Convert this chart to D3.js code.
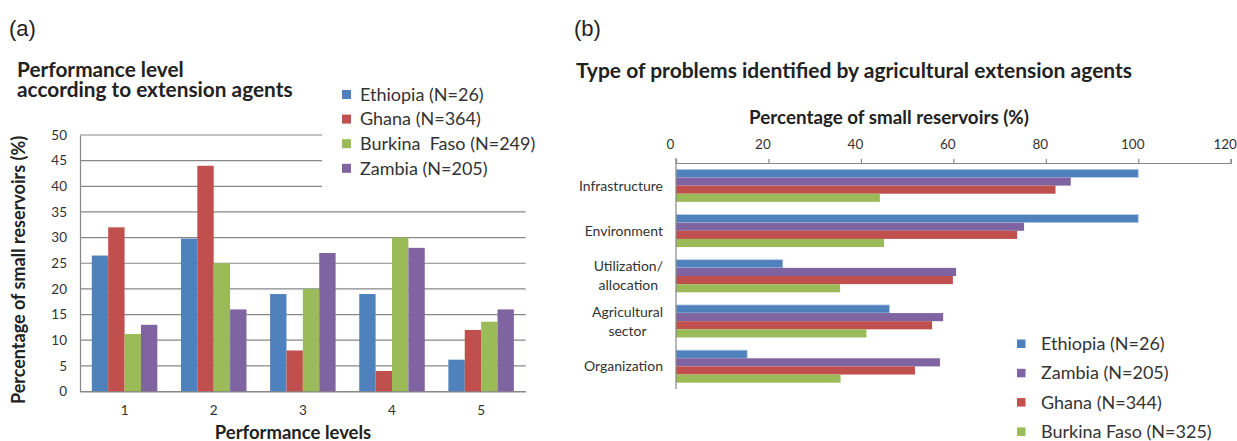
<!DOCTYPE html>
<html>
<head>
<meta charset="utf-8">
<script src="https://cdnjs.cloudflare.com/ajax/libs/d3/7.8.5/d3.min.js"></script>
<style>
  body { margin: 0; background: #fff; }
  text { font-family: Lato, "Open Sans", sans-serif; fill: #333; }
  .panel { font-family: "Liberation Sans", Arial, sans-serif; fill: #222; }
  .title { font-weight: bold; fill: #222; }
  .grid line, .axisline { stroke: #878787; stroke-width: 1.2; }
</style>
</head>
<body>
<script>
//canvas
var w = 1237;
var h = 441;

//panel (a) data
var levels = ["1", "2", "3", "4", "5"];
var seriesA = ["Ethiopia (N=26)", "Ghana (N=364)", "Burkina  Faso (N=249)", "Zambia (N=205)"];
var ethiopiaA = [26.5, 29.8, 19, 19, 6.2];
var ghanaA = [32, 44, 8, 4, 12];
var burkinaA = [11.2, 25, 20, 30, 13.6];
var zambiaA = [13, 16, 27, 28, 16];
var yTicksA = [0, 5, 10, 15, 20, 25, 30, 35, 40, 45, 50];

//panel (b) data
var problems = ["Infrastructure", "Environment", "Utilization/\nallocation", "Agricultural\nsector", "Organization"];
var seriesB = ["Ethiopia (N=26)", "Zambia (N=205)", "Ghana (N=344)", "Burkina Faso (N=325)"];
var ethiopiaB = [100, 100, 23.1, 46.2, 15.4];
var zambiaB = [85.4, 75.3, 60.6, 57.8, 57.1];
var ghanaB = [82.1, 73.8, 59.9, 55.4, 51.7];
var burkinaB = [44.1, 45, 35.5, 41.2, 35.6];
var xTicksB = [0, 20, 40, 60, 80, 100, 120];

//colours (excel defaults)
var blue = "#4f81bd", red = "#c0504d", green = "#9bbb59", purple = "#8064a2";
var colorsA = [blue, red, green, purple];
var colorsB = [blue, purple, red, green];

var valuesA = [ethiopiaA, ghanaA, burkinaA, zambiaA];
var valuesB = [ethiopiaB, zambiaB, ghanaB, burkinaB];

var svg = d3.select("body")
    .append("svg")
    .attr("width", w)
    .attr("height", h);

svg.append("rect").attr("width", w).attr("height", h).attr("fill", "#fff");

/* ---------- panel (a) ---------- */
svg.append("text").attr("class", "panel")
    .attr("x", 9).attr("y", 36)
    .style("font-size", "22px")
    .text("(a)");

//two-line title
svg.append("text").attr("class", "title")
    .attr("x", 17).attr("y", 77)
    .style("font-size", "20.8px")
    .text("Performance level");
svg.append("text").attr("class", "title")
    .attr("x", 17).attr("y", 97)
    .style("font-size", "20.8px")
    .text("according to extension agents");

var x0 = d3.scaleBand()
    .domain(levels)
    .range([80, 525.7])
    .paddingInner(0.265)
    .paddingOuter(0.1325);

var x1 = d3.scaleBand()
    .domain(d3.range(seriesA.length))
    .range([0, x0.bandwidth()]);

var yA = d3.scaleLinear()
    .domain([0, 50])
    .range([391.5, 135]);

//gridlines
svg.append("g")
    .attr("class", "grid")
    .selectAll("line")
    .data(yTicksA)
    .enter()
    .append("line")
    .attr("x1", 80)
    .attr("x2", 525.7)
    .attr("y1", function(d) { return yA(d); })
    .attr("y2", function(d) { return yA(d); });

//legend background hides the top gridlines
svg.append("rect")
    .attr("x", 322).attr("y", 100)
    .attr("width", 230).attr("height", 103)
    .attr("fill", "#fff");

//bars
svg.append("g")
    .selectAll("g")
    .data(valuesA)
    .enter()
    .append("g")
    .attr("fill", function(d, i) { return colorsA[i]; })
    .each(function(vals, si) {
        d3.select(this).selectAll("rect")
            .data(vals)
            .enter()
            .append("rect")
            .attr("x", function(d, j) { return x0(levels[j]) + x1(si); })
            .attr("width", x1.bandwidth())
            .attr("y", function(d) { return yA(d); })
            .attr("height", function(d) { return yA(0) - yA(d); });
    });

//axes
var yAxisA = d3.axisLeft(yA).tickValues(yTicksA).tickSize(0).tickPadding(13);
svg.append("g")
    .attr("transform", "translate(80,0)")
    .call(yAxisA)
    .call(function(g) {
        g.select(".domain").attr("stroke", "#878787").attr("stroke-width", 1.2);
        g.selectAll("text").style("font-size", "13.5px").attr("fill", "#444")
            .style("font-family", "Lato, sans-serif");
    });

var xAxisA = d3.axisBottom(x0).tickSize(0).tickPadding(14);
svg.append("g")
    .attr("transform", "translate(0," + yA(0) + ")")
    .call(xAxisA)
    .call(function(g) {
        g.select(".domain").attr("stroke", "#878787").attr("stroke-width", 1.2);
        g.selectAll("text").style("font-size", "13.5px").attr("fill", "#444")
            .style("font-family", "Lato, sans-serif");
    });

svg.append("text").attr("class", "title")
    .attr("x", 293).attr("y", 439)
    .attr("text-anchor", "middle")
    .style("font-size", "18.5px")
    .text("Performance levels");

svg.append("text").attr("class", "title")
    .attr("transform", "translate(25,270) rotate(-90)")
    .attr("text-anchor", "middle")
    .style("font-size", "18px")
    .text("Percentage of small reservoirs (%)");

//legend (a)
var legA = svg.append("g")
    .selectAll("g")
    .data(seriesA)
    .enter()
    .append("g")
    .attr("transform", function(d, i) { return "translate(342," + (94.5 + i * 24.6) + ")"; });
legA.append("rect")
    .attr("x", 0).attr("y", -4.5)
    .attr("width", 9).attr("height", 9)
    .attr("fill", function(d, i) { return colorsA[i]; });
legA.append("text")
    .attr("x", 18).attr("dy", "0.35em")
    .style("font-size", "18px")
    .style("white-space", "pre")
    .attr("xml:space", "preserve")
    .text(function(d) { return d; });

/* ---------- panel (b) ---------- */
svg.append("text").attr("class", "panel")
    .attr("x", 574).attr("y", 36)
    .style("font-size", "22px")
    .text("(b)");

svg.append("text").attr("class", "title")
    .attr("x", 576).attr("y", 78)
    .style("font-size", "21px")
    .text("Type of problems identified by agricultural extension agents");

svg.append("text").attr("class", "title")
    .attr("x", 889).attr("y", 124)
    .attr("text-anchor", "middle")
    .style("font-size", "18.8px")
    .text("Percentage of small reservoirs (%)");

var xB = d3.scaleLinear()
    .domain([0, 120])
    .range([676, 1230.7]);

var y0 = d3.scaleBand()
    .domain(problems)
    .range([163, 389])
    .paddingInner(0.28)
    .paddingOuter(0.14);

var y1 = d3.scaleBand()
    .domain(d3.range(seriesB.length))
    .range([0, y0.bandwidth()]);

//bars
svg.append("g")
    .selectAll("g")
    .data(valuesB)
    .enter()
    .append("g")
    .attr("fill", function(d, i) { return colorsB[i]; })
    .each(function(vals, si) {
        d3.select(this).selectAll("rect")
            .data(vals)
            .enter()
            .append("rect")
            .attr("x", xB(0))
            .attr("y", function(d, j) { return y0(problems[j]) + y1(si); })
            .attr("height", y1.bandwidth())
            .attr("width", function(d) { return xB(d) - xB(0); })
            .attr("stroke", si === 0 ? "#b8cce4" : "none")
            .attr("stroke-width", 0.8);
    });

//top axis with short upward ticks
var xAxisB = d3.axisTop(xB).tickValues(xTicksB).tickSize(4).tickPadding(10).tickSizeOuter(4);
svg.append("g")
    .attr("transform", "translate(0,163)")
    .call(xAxisB)
    .call(function(g) {
        g.select(".domain").attr("stroke", "#878787").attr("stroke-width", 1.2);
        g.selectAll(".tick line").attr("stroke", "#878787").attr("stroke-width", 1.2);
        g.selectAll("text").style("font-size", "13.5px").attr("fill", "#444")
            .style("font-family", "Lato, sans-serif")
            .attr("dx", -6);
    });

//left axis line
svg.append("line").attr("class", "axisline")
    .attr("x1", xB(0)).attr("x2", xB(0))
    .attr("y1", 158).attr("y2", 389);

//category labels
var catB = svg.append("g")
    .selectAll("text")
    .data(problems)
    .enter()
    .append("text")
    .style("font-size", "14px")
    .attr("text-anchor", "middle");
catB.each(function(d) {
    var t = d3.select(this);
    var lines = d.split("\n");
    var cy = y0(d) + y0.bandwidth() / 2;
    lines.forEach(function(l, k) {
        t.append("tspan")
            .attr("y", cy + (k - (lines.length - 1) / 2) * 19)
            .attr("dy", "0.35em")
            .text(l);
    });
    var wmax = 0;
    t.selectAll("tspan").each(function() { wmax = Math.max(wmax, this.getComputedTextLength()); });
    t.selectAll("tspan").attr("x", 663 - wmax / 2);
});

//legend (b)
var legB = svg.append("g")
    .selectAll("g")
    .data(seriesB)
    .enter()
    .append("g")
    .attr("transform", function(d, i) { return "translate(1017," + (343.7 + i * 29.3) + ")"; });
legB.append("rect")
    .attr("x", 0).attr("y", -4.2)
    .attr("width", 8.5).attr("height", 8.5)
    .attr("fill", function(d, i) { return colorsB[i]; });
legB.append("text")
    .attr("x", 24).attr("dy", "0.35em")
    .style("font-size", "18px")
    .text(function(d) { return d; });
</script>
</body>
</html>
